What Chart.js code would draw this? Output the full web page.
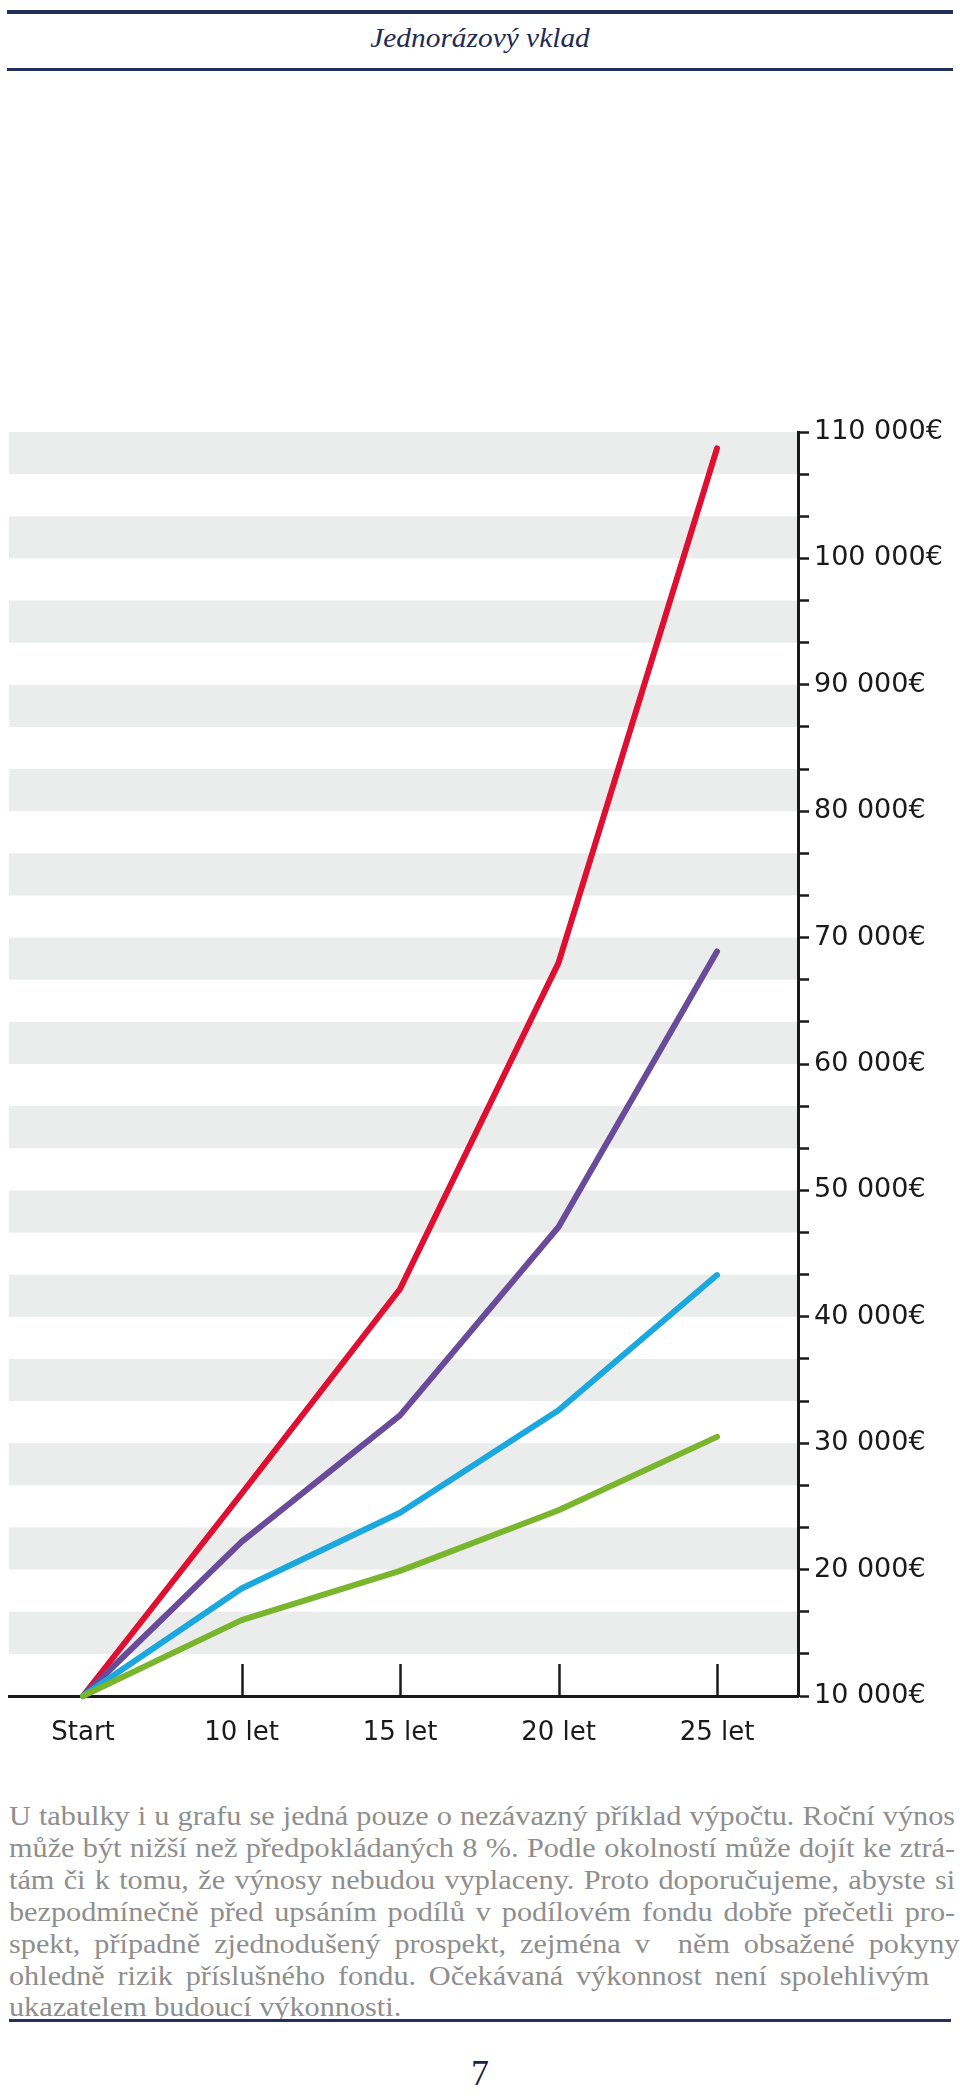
<!DOCTYPE html>
<html lang="cs">
<head>
  <meta charset="UTF-8">
  <title>Jednorázový vklad</title>
  <script src="https://cdn.jsdelivr.net/npm/chart.js@4.4.5/dist/chart.umd.min.js"></script>
  <style>
    body { margin: 0; background: #fff; }
    .page { position: relative; width: 960px; height: 2096px; overflow: hidden; }
    .rule { position: absolute; left: 7px; width: 946px; background: #24305c; }
    .title {
      position: absolute; top: 24px; left: 0; width: 960px; text-align: center;
      font: italic 28px/28px 'Liberation Serif', serif; color: #1f2a57;
      transform: scaleX(1.05);
    }
    #chartBox { position: absolute; left: 0; top: 0; width: 960px; height: 1780px; }
    .note div {
      position: absolute; left: 9px; height: 32px; white-space: nowrap;
      font: 28px/32px 'Liberation Serif', serif; color: #8e8e8e;
      transform-origin: left top; transform: scaleX(1.08);
      text-align: justify; text-align-last: justify;
    }
    .note div.last { text-align: left; text-align-last: left; }
    .pageno {
      position: absolute; top: 2055px; left: 0; width: 960px; text-align: center;
      font: 36px/36px 'Liberation Serif', serif; color: #1c2244;
    }
  </style>
</head>
<body>
<div class="page">
  <div class="rule" style="top:10px;height:4px"></div>
  <div class="title">Jednorázový vklad</div>
  <div class="rule" style="top:68px;height:3px"></div>

  <div id="chartBox"><canvas id="chart" width="960" height="1780"></canvas></div>

  <div class="note">
    <div style="top:1800px;width:876px">U tabulky i u grafu se jedná pouze o nezávazný příklad výpočtu. Roční výnos</div>
    <div style="top:1832px;width:876px">může být nižší než předpokládaných 8 %. Podle okolností může dojít ke ztrá-</div>
    <div style="top:1864px;width:876px">tám či k tomu, že výnosy nebudou vyplaceny. Proto doporučujeme, abyste si</div>
    <div style="top:1896px;width:876px">bezpodmínečně před upsáním podílů v podílovém fondu dobře přečetli pro-</div>
    <div style="top:1928px;width:880px">spekt, případně zjednodušený prospekt, zejména v&nbsp; něm obsažené pokyny</div>
    <div style="top:1960px;width:852px">ohledně rizik příslušného fondu. Očekávaná výkonnost není spolehlivým</div>
    <div class="last" style="top:1991px">ukazatelem budoucí výkonnosti.</div>
  </div>
  <div class="rule" style="top:2019px;height:3px;left:9px;width:942px"></div>
  <div class="pageno">7</div>
</div>

<script>
  // categories (x axis)
  const xLabels = ['Start', '10 let', '15 let', '20 let', '25 let'];

  // series values (EUR)
  const red    = [10000, 26000, 42200, 68000, 108700];
  const purple = [10000, 22200, 32200, 47100, 68900];
  const cyan   = [10000, 18500, 24500, 32600, 43300];
  const green  = [10000, 16000, 19900, 24700, 30500];

  // labelled y ticks; two unlabelled ticks sit between each pair
  const yTickValues = [10000, 20000, 30000, 40000, 50000, 60000, 70000, 80000, 90000, 100000, 110000];

  const yAllTicks = [];
  yTickValues.forEach((v, i) => {
    yAllTicks.push(v);
    if (i < yTickValues.length - 1) {
      const step = (yTickValues[i + 1] - v) / 3;
      yAllTicks.push(v + step, v + 2 * step);
    }
  });

  const isMajor = v => yTickValues.some(m => Math.abs(m - v) < 1);
  const fmt = v => String(Math.round(v)).replace(/\B(?=(\d{3})+(?!\d))/g, ' ') + '€';
  const toPoints = arr => arr.map((v, i) => ({ x: i, y: v }));

  // grey bands between every other pair of small ticks, plus the upward x ticks
  const decor = {
    id: 'decor',
    beforeDraw(chart) {
      const { ctx, chartArea, scales: { y } } = chart;
      ctx.save();
      ctx.fillStyle = '#ebecec';
      for (let i = 0; i < yAllTicks.length - 1; i++) {
        if (i % 2 === 1) {
          const top = y.getPixelForValue(yAllTicks[i + 1]);
          const bottom = y.getPixelForValue(yAllTicks[i]);
          ctx.fillRect(chartArea.left, top, chartArea.right - chartArea.left, bottom - top);
        }
      }
      ctx.restore();
    },
    beforeDatasetsDraw(chart) {
      const { ctx, chartArea, scales: { x } } = chart;
      ctx.save();
      ctx.strokeStyle = '#1a1a1a';
      ctx.lineWidth = 2.5;
      for (let i = 1; i < xLabels.length; i++) {
        const px = Math.round(x.getPixelForValue(i)) + 0.5;
        ctx.beginPath();
        ctx.moveTo(px, chartArea.bottom);
        ctx.lineTo(px, chartArea.bottom - 32);
        ctx.stroke();
      }
      ctx.restore();
    }
  };

  const lineStyle = {
    borderWidth: 6,
    pointRadius: 0,
    tension: 0,
    fill: false,
    borderCapStyle: 'round',
    borderJoinStyle: 'round',
    clip: false
  };

  new Chart(document.getElementById('chart').getContext('2d'), {
    type: 'line',
    data: {
      datasets: [
        { ...lineStyle, label: 'red', data: toPoints(red), borderColor: '#de0f30', order: 4 },
        { ...lineStyle, label: 'purple', data: toPoints(purple), borderColor: '#6a4b99', order: 3 },
        { ...lineStyle, label: 'cyan', data: toPoints(cyan), borderColor: '#1aa8de', order: 2 },
        { ...lineStyle, label: 'green', data: toPoints(green), borderColor: '#7ab52e', order: 1 }
      ]
    },
    options: {
      responsive: false,
      animation: false,
      devicePixelRatio: 1,
      layout: { padding: { left: 9, top: 432, right: 0, bottom: 0 } },
      plugins: { legend: { display: false }, tooltip: { enabled: false } },
      scales: {
        x: {
          type: 'linear',
          min: -0.467,
          max: 4.511,
          afterBuildTicks: s => { s.ticks = xLabels.map((_, i) => ({ value: i })); },
          afterFit: s => { s.height = 84; },
          grid: { display: false, drawTicks: false },
          border: { display: true, color: '#1a1a1a', width: 3 },
          ticks: {
            autoSkip: false,
            maxRotation: 0,
            padding: 22,
            color: '#1a1a1a',
            font: { family: 'DejaVu Sans', size: 26 },
            callback: v => xLabels[v]
          }
        },
        y: {
          type: 'linear',
          position: 'right',
          min: 10000,
          max: 110000,
          afterBuildTicks: s => { s.ticks = yAllTicks.map(v => ({ value: v })); },
          afterFit: s => { s.width = 162; },
          grid: {
            drawOnChartArea: false,
            drawTicks: true,
            tickLength: 11,
            tickWidth: 2.5,
            tickColor: '#1a1a1a'
          },
          border: { display: true, color: '#1a1a1a', width: 3 },
          ticks: {
            autoSkip: false,
            padding: 5,
            color: '#1a1a1a',
            font: { family: 'DejaVu Sans', size: 27 },
            callback: v => (isMajor(v) ? fmt(v) : '')
          }
        }
      }
    },
    plugins: [decor]
  });
</script>
</body>
</html>
